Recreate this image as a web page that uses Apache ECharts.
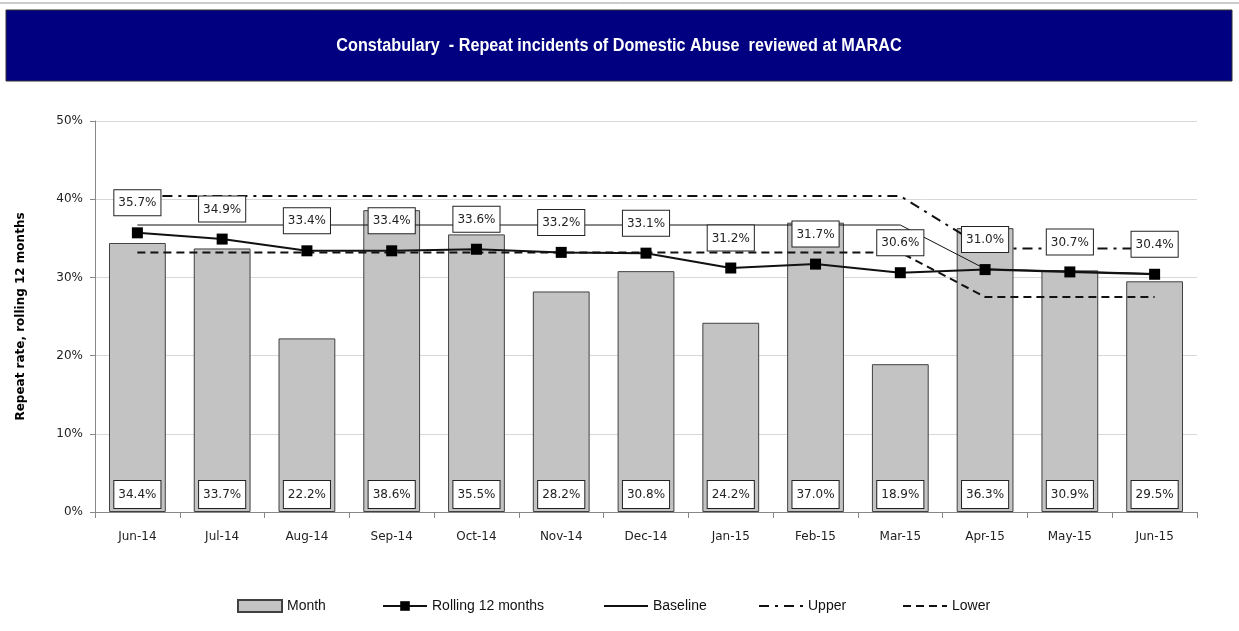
<!DOCTYPE html>
<html>
<head>
<meta charset="utf-8">
<script src="https://cdn.jsdelivr.net/npm/echarts@6/dist/echarts.min.js"></script>
<style>
  html, body { margin: 0; padding: 0; background: #fff; }
  #chart { width: 1239px; height: 631px; }
</style>
</head>
<body>
<div id="chart"></div>
<script>
const months = ['Jun-14', 'Jul-14', 'Aug-14', 'Sep-14', 'Oct-14', 'Nov-14', 'Dec-14', 'Jan-15', 'Feb-15', 'Mar-15', 'Apr-15', 'May-15', 'Jun-15']
const monthRate = [34.4, 33.7, 22.2, 38.6, 35.5, 28.2, 30.8, 24.2, 37.0, 18.9, 36.3, 30.9, 29.5]
const rolling = [35.7, 34.9, 33.4, 33.4, 33.6, 33.2, 33.1, 31.2, 31.7, 30.6, 31.0, 30.7, 30.4]
const baseline = [36.7, 36.7, 36.7, 36.7, 36.7, 36.7, 36.7, 36.7, 36.7, 36.7, 31.1, 30.8, 30.5]
const upper = [40.4, 40.4, 40.4, 40.4, 40.4, 40.4, 40.4, 40.4, 40.4, 40.4, 33.7, 33.7, 33.7]
const lower = [33.2, 33.2, 33.2, 33.2, 33.2, 33.2, 33.2, 33.2, 33.2, 33.2, 27.5, 27.5, 27.5]
const yTicks = [0, 10, 20, 30, 40, 50]

const labelFont = 'DejaVu Sans'
const boxLabel = {
    color: '#222',
    fontFamily: labelFont,
    fontSize: 12,
    backgroundColor: '#fff',
    borderColor: '#222',
    borderWidth: 1,
    formatter: p => p.value.toFixed(1) + '%'
}

// one legend per entry so each can sit where the original has it
function legendAt(name, left, icon, hideSymbol) {
    let lg = {
        data: [icon ? { name: name, icon: icon } : name],
        left: left,
        top: 594,
        itemWidth: 44,
        itemHeight: 12,
        textStyle: { fontFamily: 'Liberation Sans', fontSize: 14, color: '#111' }
    }
    if (hideSymbol) lg.itemStyle = { opacity: 0 }
    return lg
}

let chart = echarts.init(document.getElementById('chart'))
chart.setOption({
    animation: false,
    backgroundColor: '#fff',
    graphic: [
        { type: 'line', shape: { x1: 0, y1: 3, x2: 1239, y2: 3 }, style: { stroke: '#999', lineWidth: 1 } },
        {
            type: 'rect', shape: { x: 6, y: 10, width: 1226, height: 71 },
            style: { fill: '#000080', stroke: '#333', lineWidth: 1 }
        },
        {
            type: 'text', x: 619, y: 46, scaleX: 0.9,
            style: {
                text: 'Constabulary  - Repeat incidents of Domestic Abuse  reviewed at MARAC',
                fill: '#fff', font: 'bold 18px "Liberation Sans"',
                textAlign: 'center', textVerticalAlign: 'middle'
            }
        }
    ],
    grid: { left: 95, right: 42, top: 121, bottom: 119 },
    legend: [
        legendAt('Month', 232, 'rect'),
        legendAt('Rolling 12 months', 377),
        legendAt('Baseline', 598, null, true),
        legendAt('Upper', 753, null, true),
        legendAt('Lower', 897, null, true)
    ],
    xAxis: {
        type: 'category',
        data: months,
        axisLine: { lineStyle: { color: '#888' } },
        axisTick: { show: true, alignWithLabel: false, length: 6, lineStyle: { color: '#888' } },
        axisLabel: { color: '#222', fontFamily: labelFont, fontSize: 12, margin: 19 }
    },
    yAxis: {
        type: 'value',
        min: yTicks[0],
        max: yTicks[yTicks.length - 1],
        interval: 10,
        name: 'Repeat rate, rolling 12 months',
        nameLocation: 'middle',
        nameGap: 68,
        nameTextStyle: { fontFamily: labelFont, fontWeight: 'bold', fontSize: 12, color: '#000' },
        axisLine: { show: true, lineStyle: { color: '#888' } },
        axisTick: { show: true, length: 5, lineStyle: { color: '#888' } },
        axisLabel: { color: '#222', fontFamily: labelFont, fontSize: 12, margin: 12, formatter: v => v + '%' },
        splitLine: { lineStyle: { color: '#d8d8d8' } }
    },
    series: [
        {
            name: 'Month',
            type: 'bar',
            data: monthRate,
            barWidth: '67%',
            itemStyle: { color: '#c3c3c3', borderColor: '#404040', borderWidth: 1 },
            label: Object.assign({ show: true, position: 'insideBottom', distance: 4, padding: [8, 4, 7, 4] }, boxLabel),
            z: 1
        },
        {
            name: 'Baseline',
            type: 'line',
            data: baseline,
            symbol: 'none',
            lineStyle: { color: '#111', width: 1 },
            itemStyle: { color: '#111' },
            z: 2
        },
        {
            name: 'Upper',
            type: 'line',
            data: upper,
            symbol: 'none',
            lineStyle: { color: '#111', width: 2, type: [10, 6, 3, 6] },
            itemStyle: { color: '#111' },
            z: 2
        },
        {
            name: 'Lower',
            type: 'line',
            data: lower,
            symbol: 'none',
            lineStyle: { color: '#111', width: 2, type: [8, 5] },
            itemStyle: { color: '#111' },
            z: 2
        },
        {
            name: 'Rolling 12 months',
            type: 'line',
            data: rolling,
            symbol: 'rect',
            symbolSize: 11,
            lineStyle: { color: '#111', width: 2 },
            itemStyle: { color: '#000' },
            label: Object.assign({ show: true, position: 'top', distance: 12, padding: [7, 4, 6, 4] }, boxLabel),
            z: 3
        }
    ]
})
</script>
</body>
</html>
